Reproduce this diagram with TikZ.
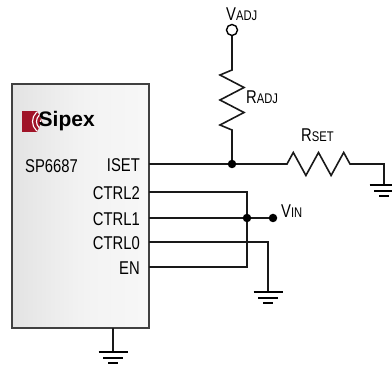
\documentclass[tikz,border=0pt]{standalone}
\usepackage{fontspec}
\setmainfont{Liberation Sans}
\newfontfamily\condfont{Liberation Sans}[FakeStretch=0.8]
\usetikzlibrary{calc,positioning}

\definecolor{sipexred}{RGB}{160,20,40}

\tikzset{
  wire/.style={line width=1.6pt, black!90},
  jdot/.style={circle, fill=black, inner sep=0pt, minimum size=8.5pt},
  opendot/.style={circle, draw, line width=1.4pt, fill=white, inner sep=0pt, minimum size=11pt},
  pinlabel/.style={inner sep=0pt, font=\condfont\fontsize{18.5}{20}\selectfont},
  ground/.pic={
    \draw[line width=1.6pt] (-14.5,0) -- (14.5,0);
    \draw[line width=1.6pt] (-10,6) -- (10,6);
    \draw[line width=2pt] (-5,11.5) -- (5,11.5);
  }
}
\newcommand{\sublbl}[2]{#1{\fontsize{14}{16}\selectfont #2}}

\begin{document}
\begin{tikzpicture}[x=1pt,y=-1pt]
    \useasboundingbox (0,0) rectangle (392,366);

    % chip body
    \shade[shading angle=135, left color=gray!22, right color=gray!6, middle color=gray!10]
          (12,84) rectangle (149,328);
    \draw[line width=1.4pt, black!75] (12,84) rectangle (149,328);
    \node (ic) [inner sep=0pt, minimum width=137pt, minimum height=244pt] at (80.5,206) {};

    % logo
    \begin{scope}
        \clip (22,111) -- (37,111) -- (42,121) -- (37,132) -- (22,132) -- cycle;
        \fill[sipexred] (22,111) rectangle (42,132);
        \foreach \r in {4.5,8.5,12.5}
            \draw[white, line width=1.1pt] (45,121.5) circle (\r);
    \end{scope}
    \node (logo) [anchor=west, inner sep=0pt, font=\fontsize{21}{22}\selectfont\bfseries] at (38.5,121.5) {Sipex};

    \node (part) [pinlabel, anchor=west] at (25,166) {SP6687};

    % pins
    \coordinate (iset)  at (149,164);
    \coordinate (ctrl2) at (149,192);
    \coordinate (ctrl1) at (149,218);
    \coordinate (ctrl0) at (149,242);
    \coordinate (en)    at (149,267);

    \node [pinlabel, left=9pt of iset, yshift=-1.5pt]  {ISET};
    \node [pinlabel, left=9pt of ctrl2, yshift=-1.5pt] {CTRL2};
    \node [pinlabel, left=9pt of ctrl1, yshift=-1.5pt] {CTRL1};
    \node [pinlabel, left=9pt of ctrl0, yshift=-1.5pt] {CTRL0};
    \node [pinlabel, left=9pt of en, yshift=-1.5pt]    {EN};

    % adjust branch
    \coordinate (jset) at (232,164);
    \coordinate (radjtop) at (232,70);
    \coordinate (rsetin) at (287,164);
    \coordinate (rgnd) at (384,185);
    \node (vadj) [opendot] at (232,30) {};
    \node [pinlabel, anchor=south west] at (226,21) {\sublbl{V}{ADJ}};

    \draw[wire] (vadj) -- (radjtop)
        -- ++(-12,5) -- ++(24,12.5) -- ++(-24,12.5) -- ++(24,12.5) -- ++(-24,12.5) -- ++(12,5)
        coordinate (radjbot) -- (jset);
    \node [pinlabel, anchor=west] at (246,97) {\sublbl{R}{ADJ}};

    \draw[wire] (iset) -- (jset) -- (rsetin)
        -- ++(6.3,-11.5) -- ++(12.6,23) -- ++(12.6,-23) -- ++(12.6,23) -- ++(12.6,-23) -- ++(6.3,11.5)
        coordinate (rsetout) -- (rgnd |- rsetout) -- (rgnd);
    \node [pinlabel, anchor=west] at (301,135.5) {\sublbl{R}{SET}};
    \pic at (rgnd) {ground};
    \node [jdot] at (jset) {};

    % control pins
    \coordinate (bus) at (247,218);
    \coordinate (c0gnd) at (268,292);
    \node (vin) [jdot] at (273,218) {};
    \node [pinlabel, anchor=west] at (281,211) {\sublbl{V}{IN}};

    \draw[wire] (ctrl2) -- (bus |- ctrl2) -- (bus |- en) -- (en);
    \draw[wire] (ctrl1) -- (vin);
    \node [jdot] at (bus) {};
    \draw[wire] (ctrl0) -- (c0gnd |- ctrl0) -- (c0gnd);
    \pic at (c0gnd) {ground};

    % chip ground
    \coordinate (icgnd) at (113,352);
    \draw[wire] (ic.south -| icgnd) -- (icgnd);
    \pic at (icgnd) {ground};
\end{tikzpicture}
\end{document}
